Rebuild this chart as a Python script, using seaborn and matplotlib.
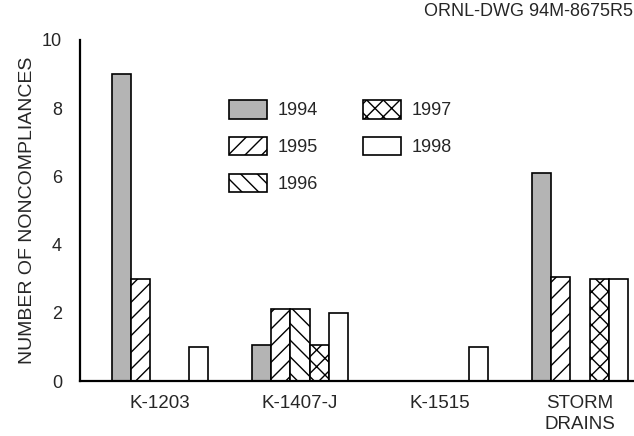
import matplotlib
matplotlib.use("Agg")
import matplotlib.pyplot as plt
from matplotlib.patches import Patch
from matplotlib.ticker import FixedLocator
import seaborn as sns
import pandas as pd

# ---- data ----
sites = ["K-1203", "K-1407-J", "K-1515", "STORM\nDRAINS"]
years = ["1994", "1995", "1996", "1997", "1998"]
v1994 = [9.0, 1.05, 0.0, 6.1]
v1995 = [3.0, 2.1, 0.0, 3.05]
v1996 = [0.0, 2.1, 0.0, 0.0]
v1997 = [0.0, 1.05, 0.0, 3.0]
v1998 = [1.0, 2.0, 1.0, 3.0]
series = [v1994, v1995, v1996, v1997, v1998]

rows = []
for y, vals in zip(years, series):
    for s, v in zip(sites, vals):
        rows.append({"site": s, "year": y, "count": v})
df = pd.DataFrame(rows)

# ---- style ----
sns.set_style("white")
plt.rcParams["font.family"] = ["Liberation Sans", "DejaVu Sans"]
plt.rcParams["hatch.linewidth"] = 1.0
plt.rcParams["hatch.color"] = "black"

fills = {"1994": "#b4b4b4", "1995": "white", "1996": "white", "1997": "white", "1998": "white"}
hatches = {"1994": "", "1995": "//", "1996": "\\\\", "1997": "xx", "1998": ""}

W, H = 634, 436
fig = plt.figure(figsize=(W / 100, H / 100), dpi=100)
ax = fig.add_axes([80 / W, (H - 381) / H, (W - 80) / W, (381 - 40) / H])

sns.barplot(data=df, x="site", y="count", hue="year", order=sites, hue_order=years,
            palette=fills, width=0.68, errorbar=None, edgecolor="black",
            linewidth=1.2, saturation=1, ax=ax, legend=False)

for cont, y in zip(ax.containers, years):
    for p in cont:
        p.set_hatch(hatches[y])
        p.set_edgecolor("black")

ax.set_xlim(-0.5714, 3.3857)
ax.set_ylim(0, 10)
ax.set_yticks([0, 2, 4, 6, 8, 10])
ax.tick_params(axis="y", direction="in", length=9.5, width=1.6, labelsize=13, pad=13)
ax.tick_params(axis="x", which="major", length=0, labelsize=13.5, pad=10)
for lab in ax.get_xticklabels():
    lab.set_linespacing(1.3)
ax.xaxis.set_minor_locator(FixedLocator([0.5, 1.5, 2.5]))
ax.tick_params(axis="x", which="minor", direction="inout", length=9.5, width=1.3)
ax.set_xlabel("")
ax.set_ylabel("NUMBER OF NONCOMPLIANCES", fontsize=14, labelpad=4)

for side in ["top", "right"]:
    ax.spines[side].set_visible(False)
for side in ["left", "bottom"]:
    ax.spines[side].set_linewidth(1.6)
    ax.spines[side].set_color("black")

handles = [Patch(facecolor=fills[y], edgecolor="black", hatch=hatches[y], linewidth=1.2, label=y)
           for y in years]
leg = ax.legend(handles=handles, ncol=2, loc="upper left",
                bbox_to_anchor=(229 / W, (H - 100) / H), bbox_transform=fig.transFigure,
                frameon=False, fontsize=13, handlelength=2.1, handleheight=1.2,
                handletextpad=0.6, columnspacing=2.5, labelspacing=0.97, borderpad=0,
                borderaxespad=0)

fig.text(633 / W, 1 - 12 / H, "ORNL-DWG 94M-8675R5", ha="right", va="center", fontsize=13)

fig.savefig("out.png", dpi=100)
